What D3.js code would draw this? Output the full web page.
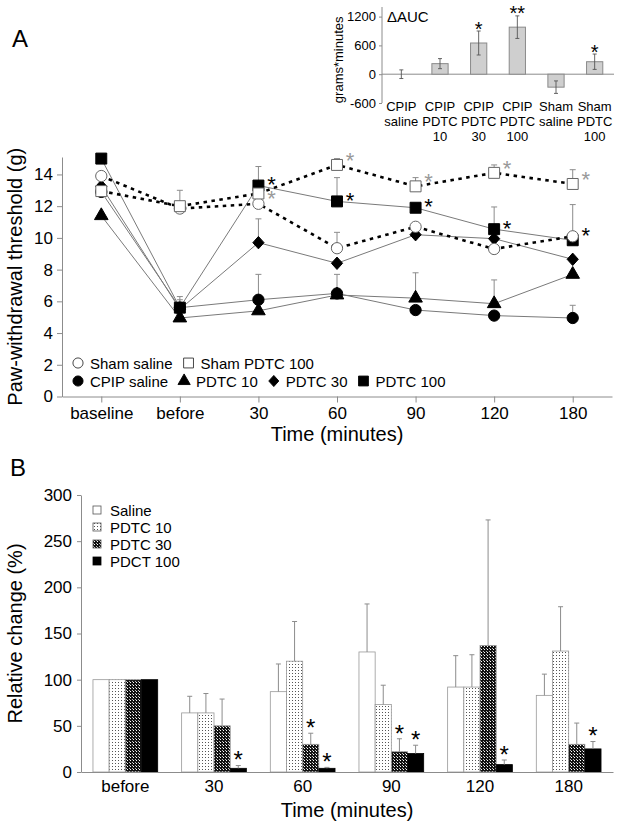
<!DOCTYPE html>
<html><head><meta charset="utf-8">
<script src="https://cdn.jsdelivr.net/npm/d3@7/dist/d3.min.js"></script>
<style>
body{margin:0;background:#fff;}
svg{display:block;font-family:"Liberation Sans",Arial,Helvetica,sans-serif;}
</style></head><body>
<svg id="chart" width="622" height="832"></svg>
<script>
// ================= DATA =================
// Panel A – paw-withdrawal threshold (g)
const timeLabels = ["baseline", "before", "30", "60", "90", "120", "180"];
const shamSaline     = [13.9, 11.85, 12.15, 9.35, 10.7, 9.3, 10.1];
const shamSalineErr  = [0, 0, 0, 1.0, 0, 0, 2.0];
const shamPdtc100    = [12.95, 12.0, 12.8, 14.6, 13.25, 14.1, 13.4];
const shamPdtc100Err = [0, 1.0, 0, 0.4, 0.55, 0.5, 0.9];
const cpipSaline     = [12.9, 5.6, 6.1, 6.5, 5.45, 5.1, 4.95];
const cpipSalineErr  = [0, 0.7, 1.6, 1.2, 0, 0, 0.8];
const pdtc10         = [11.4, 4.95, 5.4, 6.4, 6.2, 5.85, 7.7];
const pdtc10Err      = [0, 0, 0, 0, 1.6, 1.5, 0];
const pdtc30         = [13.25, 5.5, 9.7, 8.4, 10.2, 9.95, 8.65];
const pdtc30Err      = [0, 0, 1.5, 0, 0, 0, 0];
const pdtc100        = [15.0, 5.6, 13.3, 12.3, 11.9, 10.55, 9.85];
const pdtc100Err     = [0, 0.5, 1.2, 1.5, 0, 1.4, 0];
const yTicksA = [0, 2, 4, 6, 8, 10, 12, 14];
// significance marks: [time, series, colour group]
const sigA = [
  ["30", "shamSaline", "sham"], ["30", "pdtc100", "cpip"],
  ["60", "shamPdtc100", "sham"], ["60", "pdtc100", "cpip"],
  ["90", "shamPdtc100", "sham"], ["90", "pdtc100", "cpip"],
  ["120", "shamPdtc100", "sham"], ["120", "pdtc100", "cpip"],
  ["180", "shamPdtc100", "sham"], ["180", "shamSaline", "cpip"]
];

// Inset – ΔAUC
const aucCategories = [["CPIP","saline"],["CPIP","PDTC","10"],["CPIP","PDTC","30"],["CPIP","PDTC","100"],["Sham","saline"],["Sham","PDTC","100"]];
const aucValues = [0, 220, 650, 980, -270, 260];
const aucErr    = [90, 105, 250, 235, 130, 160];
const aucSig    = ["", "", "*", "**", "", "*"];
const aucTicks  = [-600, 0, 600, 1200];

// Panel B – relative change (%)
const groupsB   = ["before", "30", "60", "90", "120", "180"];
const salineB   = [100, 64, 87, 130, 92, 83];
const salineBErr= [0, 18, 30, 52, 34, 23];
const pdtc10B   = [100, 64, 120, 73, 92, 131];
const pdtc10BErr= [0, 21, 43, 21, 35, 48];
const pdtc30B   = [100, 50, 30, 22, 137, 30];
const pdtc30BErr= [0, 29, 12, 14, 136, 23];
const pdct100B  = [100, 4, 4, 20, 8, 25];
const pdct100BErr=[0, 3, 1, 9, 5, 8];
const sigB = [["30","pdct100"],["60","pdtc30"],["60","pdct100"],["90","pdtc30"],["90","pdct100"],["120","pdct100"],["180","pdct100"]];
const yTicksB = [0, 50, 100, 150, 200, 250, 300];

// ================= DRAWING =================
const svg = d3.select("#chart");
const AX = "#8c8c8c";
const ERR = "#8c8c8c";

function styleAxis(g, fs) {
  g.selectAll(".domain").attr("stroke", AX);
  g.selectAll(".tick line").attr("stroke", AX);
  g.selectAll(".tick text").attr("fill", "#000").attr("font-size", fs)
    .attr("font-family", '"Liberation Sans",Arial,sans-serif');
}
function star(sel, x, yc, size, color, txt) {
  sel.append("text").attr("x", x).attr("y", yc + 0.575 * size)
    .attr("text-anchor", "middle").attr("font-size", size).attr("fill", color)
    .text(txt || "*");
}

// defs / patterns
const defs = svg.append("defs");
const p10 = defs.append("pattern").attr("id", "pat10").attr("width", 3).attr("height", 3)
  .attr("patternUnits", "userSpaceOnUse");
p10.append("rect").attr("width", 3).attr("height", 3).attr("fill", "#fff");
p10.append("rect").attr("x", 1).attr("y", 1).attr("width", 1).attr("height", 1).attr("fill", "#555");
const p30 = defs.append("pattern").attr("id", "pat30").attr("width", 3).attr("height", 3)
  .attr("patternUnits", "userSpaceOnUse");
p30.append("rect").attr("width", 3).attr("height", 3).attr("fill", "#111");
p30.append("rect").attr("x", 1).attr("y", 1).attr("width", 1).attr("height", 1).attr("fill", "#fff");
p30.append("rect").attr("x", 0).attr("y", 0).attr("width", 1).attr("height", 1).attr("fill", "#bbb");

// ---------- Panel A ----------
svg.append("text").attr("x", 12).attr("y", 47).attr("font-size", 24).text("A");

const xA = d3.scalePoint().domain(timeLabels).range([62, 612]).padding(0.5);
const yA = d3.scaleLinear().domain([0, 15.1]).range([396.5, 157]);

const gA = svg.append("g");
const axYA = gA.append("g").attr("transform", "translate(62,0)")
  .call(d3.axisLeft(yA).tickValues(yTicksA).tickSize(5).tickSizeOuter(0).tickPadding(4));
styleAxis(axYA, 17);
const axXA = gA.append("g").attr("transform", `translate(0,${yA(0)})`)
  .call(d3.axisBottom(xA).tickSize(6).tickSizeOuter(0).tickPadding(4));
styleAxis(axXA, 17);

gA.append("text").attr("transform", `translate(22,${(yA(0)+yA(15.1))/2}) rotate(-90)`)
  .attr("text-anchor", "middle").attr("font-size", 20).text("Paw-withdrawal threshold (g)");
gA.append("text").attr("x", 337).attr("y", 441).attr("text-anchor", "middle")
  .attr("font-size", 20).text("Time (minutes)");

const seriesA = [
  {key:"cpipSaline", vals:cpipSaline, err:cpipSalineErr, shape:"circle", fill:"#000", dotted:false, label:"CPIP saline"},
  {key:"pdtc10", vals:pdtc10, err:pdtc10Err, shape:"triangle", fill:"#000", dotted:false, label:"PDTC 10"},
  {key:"pdtc30", vals:pdtc30, err:pdtc30Err, shape:"diamond", fill:"#000", dotted:false, label:"PDTC 30"},
  {key:"pdtc100", vals:pdtc100, err:pdtc100Err, shape:"square", fill:"#000", dotted:false, label:"PDTC 100"},
  {key:"shamSaline", vals:shamSaline, err:shamSalineErr, shape:"circle", fill:"#fff", dotted:true, label:"Sham saline"},
  {key:"shamPdtc100", vals:shamPdtc100, err:shamPdtc100Err, shape:"square", fill:"#fff", dotted:true, label:"Sham PDTC 100"}
];
const byKey = {}; seriesA.forEach(s => byKey[s.key] = s);

function shapePath(shape) {
  if (shape === "circle") return d3.symbol(d3.symbolCircle, 100)();
  if (shape === "square") return d3.symbol(d3.symbolSquare, 120)();
  if (shape === "triangle") return d3.symbol(d3.symbolTriangle, 80)();
  if (shape === "diamond") return "M0,-6.2L5.6,0L0,6.2L-5.6,0Z";
}

// error bars
seriesA.forEach(s => {
  s.vals.forEach((v, i) => {
    if (!s.err[i]) return;
    const x = xA(timeLabels[i]);
    const g = gA.append("g").attr("stroke", ERR).attr("stroke-width", 1);
    g.append("line").attr("x1", x).attr("x2", x).attr("y1", yA(v)).attr("y2", yA(v + s.err[i]));
    g.append("line").attr("x1", x - 3).attr("x2", x + 3).attr("y1", yA(v + s.err[i])).attr("y2", yA(v + s.err[i]));
  });
});
const lineA = d3.line().x((d, i) => xA(timeLabels[i])).y(d => yA(d));
seriesA.filter(s => !s.dotted).forEach(s => {
  gA.append("path").attr("d", lineA(s.vals)).attr("fill", "none")
    .attr("stroke", "#7a7a7a").attr("stroke-width", 1);
});
seriesA.filter(s => s.dotted).forEach(s => {
  gA.append("path").attr("d", lineA(s.vals)).attr("fill", "none")
    .attr("stroke", "#000").attr("stroke-width", 2.6).attr("stroke-dasharray", "3.5,4.5");
});
seriesA.forEach(s => {
  s.vals.forEach((v, i) => {
    gA.append("path").attr("d", shapePath(s.shape))
      .attr("transform", `translate(${xA(timeLabels[i])},${yA(v)})`)
      .attr("fill", s.fill).attr("stroke", s.fill === "#fff" ? "#666" : "#000").attr("stroke-width", 1);
  });
});
sigA.forEach(([t, k, grp]) => {
  const s = byKey[k];
  const i = timeLabels.indexOf(t);
  const sham = grp === "sham";
  star(gA, xA(t) + 13, yA(s.vals[i]) - (sham ? 10 : 6), 22, sham ? "#999" : "#000");
});

// legend A
const legA = gA.append("g");
const legRows = [["shamSaline", "shamPdtc100"], ["cpipSaline", "pdtc10", "pdtc30", "pdtc100"]];
legRows.forEach((row, r) => {
  let x = 78;
  const y = 363 + r * 18;
  row.forEach(k => {
    const s = byKey[k];
    legA.append("path").attr("d", shapePath(s.shape)).attr("transform", `translate(${x},${y}) scale(0.9)`)
      .attr("fill", s.fill).attr("stroke", s.fill === "#fff" ? "#333" : "#000");
    const t = legA.append("text").attr("x", x + 12).attr("y", y + 5.5).attr("font-size", 15).text(s.label);
    x = x + 12 + t.node().getComputedTextLength() + 16;
  });
});

// ---------- Inset ΔAUC ----------
const xI = d3.scaleBand().domain(aucCategories.map(c => c.join(" "))).range([382, 614])
  .paddingInner(0.58).paddingOuter(0.29);
const yI = d3.scaleLinear().domain([-600, 1400]).range([103, 7]);
const gI = svg.append("g");
gI.append("line").attr("x1", 382).attr("x2", 382).attr("y1", yI(-600)).attr("y2", yI(1400)).attr("stroke", AX);
const axYI = gI.append("g").attr("transform", "translate(382,0)")
  .call(d3.axisLeft(yI).tickValues(aucTicks).tickFormat(d => String(d)).tickSize(3).tickSizeOuter(0).tickPadding(3));
axYI.select(".domain").remove();
styleAxis(axYI, 13);
gI.append("line").attr("x1", 382).attr("x2", 614).attr("y1", yI(0)).attr("y2", yI(0)).attr("stroke", AX);
gI.append("text").attr("transform", `translate(343,${yI(300)}) rotate(-90)`)
  .attr("text-anchor", "middle").attr("font-size", 13).text("grams*minutes");
gI.append("text").attr("x", 387).attr("y", 22).attr("font-size", 15).text("\u0394AUC");
aucCategories.forEach((c, i) => {
  const key = c.join(" ");
  const x0 = xI(key), w = xI.bandwidth(), cx = x0 + w / 2;
  const v = aucValues[i];
  if (v !== 0) {
    gI.append("rect").attr("x", x0).attr("width", w)
      .attr("y", yI(Math.max(0, v))).attr("height", Math.abs(yI(v) - yI(0)))
      .attr("fill", "#cfcfcf").attr("stroke", "#8a8a8a").attr("stroke-width", 1);
  }
  const e = aucErr[i];
  const ge = gI.append("g").attr("stroke", "#555").attr("stroke-width", 0.9);
  ge.append("line").attr("x1", cx).attr("x2", cx).attr("y1", yI(v - e)).attr("y2", yI(v + e));
  ge.append("line").attr("x1", cx - 2).attr("x2", cx + 2).attr("y1", yI(v - e)).attr("y2", yI(v - e));
  ge.append("line").attr("x1", cx - 2).attr("x2", cx + 2).attr("y1", yI(v + e)).attr("y2", yI(v + e));
  if (aucSig[i]) star(gI, cx, yI(v + e) - 7, 20, "#000", aucSig[i]);
  c.forEach((line, j) => {
    gI.append("text").attr("x", cx).attr("y", 111 + j * 15).attr("text-anchor", "middle")
      .attr("font-size", 13).text(line);
  });
});

// ---------- Panel B ----------
svg.append("text").attr("x", 10).attr("y", 476).attr("font-size", 24).text("B");
const xB = d3.scaleBand().domain(groupsB).range([81, 613]).paddingInner(0.27).paddingOuter(0.135);
const seriesB = [
  {key:"saline", vals:salineB, err:salineBErr, fill:"#fff", label:"Saline"},
  {key:"pdtc10", vals:pdtc10B, err:pdtc10BErr, fill:"url(#pat10)", label:"PDTC 10"},
  {key:"pdtc30", vals:pdtc30B, err:pdtc30BErr, fill:"url(#pat30)", label:"PDTC 30"},
  {key:"pdct100", vals:pdct100B, err:pdct100BErr, fill:"#000", label:"PDCT 100"}
];
const xBi = d3.scaleBand().domain(seriesB.map(s => s.key)).range([0, xB.bandwidth()]);
const yB = d3.scaleLinear().domain([0, 300]).range([772, 495]);
const gB = svg.append("g");
const axYB = gB.append("g").attr("transform", "translate(81,0)")
  .call(d3.axisLeft(yB).tickValues(yTicksB).tickSize(4).tickSizeOuter(0).tickPadding(5));
styleAxis(axYB, 17);
seriesB.forEach(s => {
  s.vals.forEach((v, i) => {
    const x0 = xB(groupsB[i]) + xBi(s.key), w = xBi.bandwidth();
    gB.append("rect").attr("x", x0).attr("width", w).attr("y", yB(v)).attr("height", yB(0) - yB(v))
      .attr("fill", s.fill).attr("stroke", s.key === "pdct100" ? "#000" : "#999").attr("stroke-width", 0.8);
    const e = s.err[i];
    if (e) {
      const cx = x0 + w / 2;
      const ge = gB.append("g").attr("stroke", ERR).attr("stroke-width", 1);
      ge.append("line").attr("x1", cx).attr("x2", cx).attr("y1", yB(v)).attr("y2", yB(v + e));
      ge.append("line").attr("x1", cx - 2.5).attr("x2", cx + 2.5).attr("y1", yB(v + e)).attr("y2", yB(v + e));
    }
  });
});
const axXB = gB.append("g").attr("transform", `translate(0,${yB(0)})`)
  .call(d3.axisBottom(xB).tickSize(0).tickSizeOuter(0).tickPadding(8));
styleAxis(axXB, 17);
sigB.forEach(([g, k]) => {
  const s = seriesB.find(d => d.key === k);
  const i = groupsB.indexOf(g);
  const cx = xB(g) + xBi(k) + xBi.bandwidth() / 2;
  star(gB, cx, yB(s.vals[i] + s.err[i]) - 11, 24, "#000");
});
gB.append("text").attr("transform", `translate(22,${(yB(0)+yB(300))/2}) rotate(-90)`)
  .attr("text-anchor", "middle").attr("font-size", 20).text("Relative change (%)");
gB.append("text").attr("x", 347).attr("y", 817).attr("text-anchor", "middle")
  .attr("font-size", 20).text("Time (minutes)");
// legend B
seriesB.forEach((s, j) => {
  const y = 510 + j * 17;
  gB.append("rect").attr("x", 93).attr("y", y - 4).attr("width", 8).attr("height", 8)
    .attr("fill", s.fill).attr("stroke", s.key === "pdct100" ? "#000" : "#555").attr("stroke-width", 0.8);
  gB.append("text").attr("x", 110).attr("y", y + 5.5).attr("font-size", 15).text(s.label);
});
</script>
</body></html>
